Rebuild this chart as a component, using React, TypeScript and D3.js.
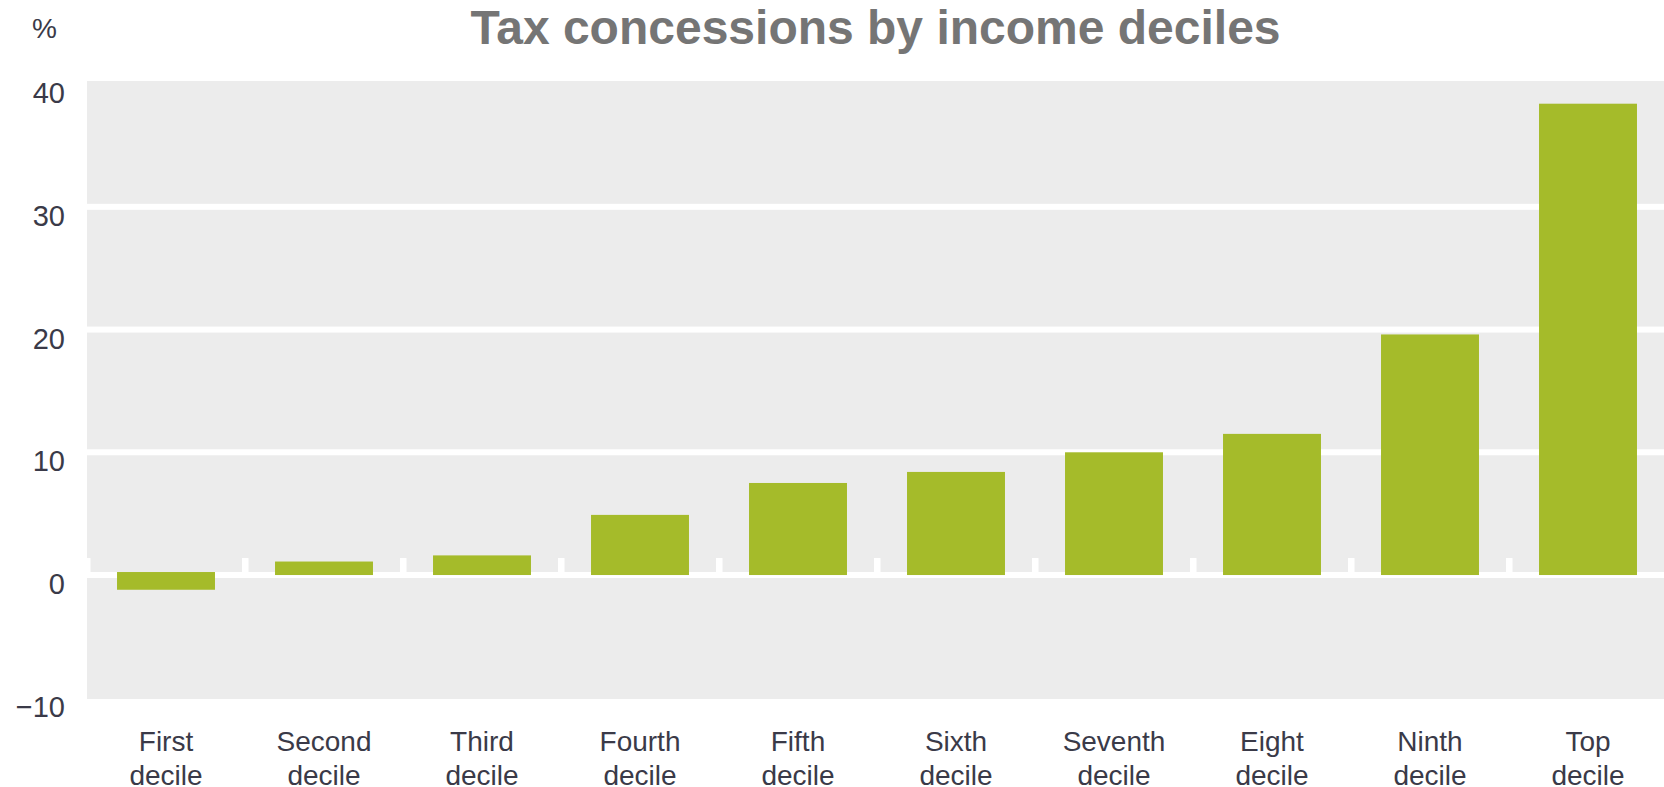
import React from "react";
import * as d3 from "d3";

const categories: string[][] = [
  ["First", "decile"],
  ["Second", "decile"],
  ["Third", "decile"],
  ["Fourth", "decile"],
  ["Fifth", "decile"],
  ["Sixth", "decile"],
  ["Seventh", "decile"],
  ["Eight", "decile"],
  ["Ninth", "decile"],
  ["Top", "decile"],
];
const values: number[] = [-1.2, 1.1, 1.6, 4.9, 7.5, 8.4, 10.0, 11.5, 19.6, 38.4];
const yTicks: number[] = [-10, 0, 10, 20, 30, 40];
const gridValues: number[] = [0, 10, 20, 30];
const title = "Tax concessions by income deciles";
const unitLabel = "%";

const W = 1664;
const H = 787;
const plotLeft = 87;
const plotRight = 1667;
const plotTop = 81;
const plotBottom = 699;
const lineW = 6;
const textColor = "#3a3a48";

export default function App() {
  const keys = categories.map((c) => c.join(" "));
  const x = d3
    .scaleBand<string>()
    .domain(keys)
    .range([plotLeft, plotRight])
    .paddingInner(0.38)
    .paddingOuter(0.19);
  const y = d3.scaleLinear().domain([-10.1, 40.25]).range([plotBottom, plotTop]);
  const step = x.step();
  const boundaries = d3.range(0, categories.length + 1).map((k) => plotLeft + k * step);

  return (
    <div style={{ position: "absolute", left: 0, top: 0 }}>
      <svg width={W} height={H} style={{ display: "block" }} fontFamily="'Liberation Sans', Arial, sans-serif">
        <rect x={0} y={0} width={W} height={H} fill="#ffffff" />
        <text
          x={(plotLeft + W) / 2}
          y={44}
          textAnchor="middle"
          fontSize={48}
          fontWeight="bold"
          fill="#757575"
        >
          {title}
        </text>
        <text x={32} y={38} fontSize={28} fill={textColor}>
          {unitLabel}
        </text>
        <rect x={plotLeft} y={plotTop} width={plotRight - plotLeft} height={plotBottom - plotTop} fill="#ececec" />
        {gridValues.map((v) => (
          <rect key={v} x={plotLeft} y={y(v) - lineW / 2} width={plotRight - plotLeft} height={lineW} fill="#ffffff" />
        ))}
        {boundaries.map((bx, i) => (
          <rect key={i} x={bx - 3} y={y(0) - 17} width={6.5} height={17} fill="#ffffff" />
        ))}
        {values.map((v, i) => {
          const x0 = x(keys[i]) as number;
          const top = v >= 0 ? y(v) : y(0) - lineW / 2;
          const bottom = v >= 0 ? y(0) : y(v);
          return <rect key={i} x={x0} y={top} width={x.bandwidth()} height={bottom - top} fill="#a5bb2a" />;
        })}
        {yTicks.map((t) => (
          <text key={t} x={65} y={y(t) + 19} textAnchor="end" fontSize={29} fill={textColor}>
            {t < 0 ? "\u2212" + Math.abs(t) : String(t)}
          </text>
        ))}
        {categories.map((lines, i) => {
          const cx = (x(keys[i]) as number) + x.bandwidth() / 2;
          return (
            <text key={i} x={cx} textAnchor="middle" fontSize={28} fill={textColor}>
              {lines.map((ln, j) => (
                <tspan key={j} x={cx} y={751 + j * 34}>
                  {ln}
                </tspan>
              ))}
            </text>
          );
        })}
      </svg>
    </div>
  );
}
